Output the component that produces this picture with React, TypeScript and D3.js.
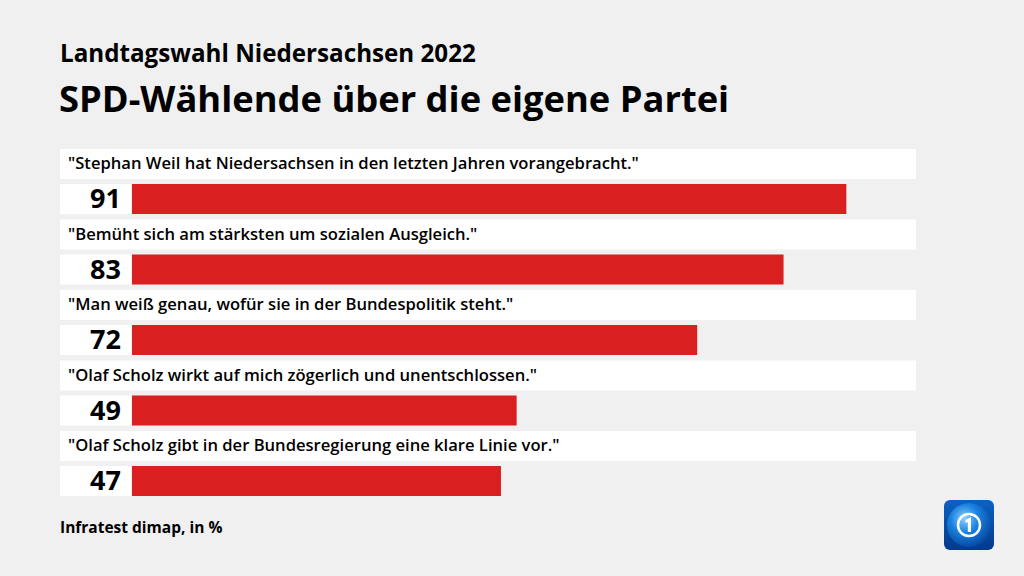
import React from "react";
import * as d3 from "d3";

const categories = [
  '"Stephan Weil hat Niedersachsen in den letzten Jahren vorangebracht."',
  '"Bemüht sich am stärksten um sozialen Ausgleich."',
  '"Man weiß genau, wofür sie in der Bundespolitik steht."',
  '"Olaf Scholz wirkt auf mich zögerlich und unentschlossen."',
  '"Olaf Scholz gibt in der Bundesregierung eine klare Linie vor."',
];
const values = [91, 83, 72, 49, 47];
const supertitle = "Landtagswahl Niedersachsen 2022";
const title = "SPD-Wählende über die eigene Partei";
const source = "Infratest dimap, in %";

const W = 1024;
const H = 576;
const FONT = "'Open Sans', 'Noto Sans', sans-serif";

export default function App() {
  const x = d3.scaleLinear().domain([0, 100]).range([132, 917]);
  const y = d3
    .scaleBand<number>()
    .domain(d3.range(categories.length))
    .range([149, 149 + 70.5 * categories.length])
    .paddingInner(0)
    .paddingOuter(0);

  return (
    <svg
      width={W}
      height={H}
      style={{ position: "absolute", left: 0, top: 0, display: "block" }}
      fontFamily={FONT}
    >
      <defs>
        <radialGradient id="globe" cx="40%" cy="35%" r="70%">
          <stop offset="0%" stopColor="#8fd0ff" />
          <stop offset="45%" stopColor="#1a82e0" />
          <stop offset="100%" stopColor="#05449c" />
        </radialGradient>
        <linearGradient id="tile" x1="0" y1="0" x2="0" y2="1">
          <stop offset="0%" stopColor="#0b62c4" />
          <stop offset="100%" stopColor="#043a8a" />
        </linearGradient>
      </defs>
      <rect width={W} height={H} fill="#f0f0f0" />
      <text x={60} y={62} fontSize={24.2} fontWeight={700} fill="#000">
        {supertitle}
      </text>
      <text x={59} y={112} fontSize={36.3} fontWeight={700} fill="#000">
        {title}
      </text>
      {categories.map((c, i) => {
        const y0 = y(i)!;
        return (
          <g key={i}>
            <rect x={60} y={y0} width={856} height={30} fill="#fff" />
            <text x={68} y={y0 + 20} fontSize={16.6} fontWeight={600} fill="#000">
              {c}
            </text>
            <rect x={60} y={y0 + 35} width={71} height={30} fill="#fff" />
            <text
              x={121}
              y={y0 + 59}
              fontSize={27}
              fontWeight={700}
              textAnchor="end"
              fill="#000"
            >
              {values[i]}
            </text>
            <rect
              x={x(0)}
              y={y0 + 35}
              width={x(values[i]) - x(0)}
              height={30}
              fill="#d91f20"
            />
          </g>
        );
      })}
      <text x={60} y={533} fontSize={15.5} fontWeight={700} fill="#000">
        {source}
      </text>
      <g transform="translate(944,500)">
        <rect width={50} height={50} rx={6} fill="url(#tile)" />
        <circle cx={25} cy={25} r={22} fill="url(#globe)" />
        <circle cx={25} cy={25} r={11} fill="none" stroke="#fff" strokeWidth={2.5} />
        <path d="M21.5 20 L27 17 L27 32 L23.8 32 L23.8 22 L21.5 23 Z" fill="#fff" />
      </g>
    </svg>
  );
}
